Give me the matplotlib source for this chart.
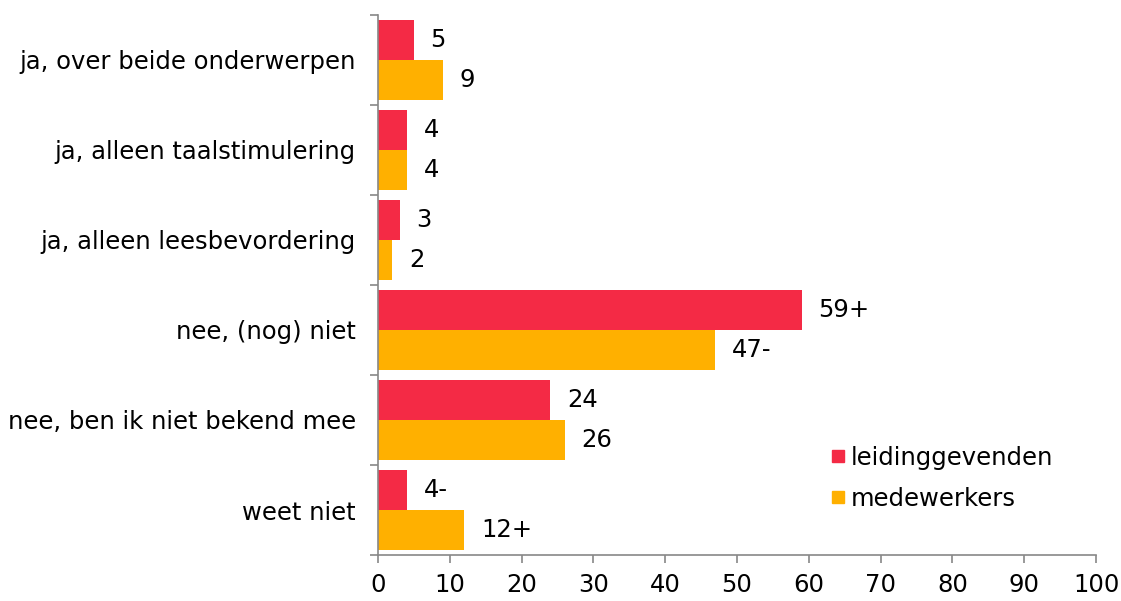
import numpy as np
import matplotlib.pyplot as plt
from matplotlib.lines import Line2D

categories = ["ja, over beide onderwerpen", "ja, alleen taalstimulering",
              "ja, alleen leesbevordering", "nee, (nog) niet",
              "nee, ben ik niet bekend mee", "weet niet"]
leiding = [5, 4, 3, 59, 24, 4]
leiding_labels = ["5", "4", "3", "59+", "24", "4-"]
medewerkers = [9, 4, 2, 47, 26, 12]
medewerkers_labels = ["9", "4", "2", "47-", "26", "12+"]

red = "#F42A45"
orange = "#FFB000"
axis_grey = "#888888"

plt.rcParams['font.family'] = ['DejaVu Sans']
fs = 17.5

fig = plt.figure(figsize=(11.21, 6.01), dpi=100)
ax = fig.add_axes([378/1121, 1 - 555/601, (1096 - 378)/1121, (555 - 15)/601])

n = len(categories)
y = np.arange(n)
h = 40/90
ax.barh(y - h/2, leiding, height=h, color=red, label="leidinggevenden")
ax.barh(y + h/2, medewerkers, height=h, color=orange, label="medewerkers")

for yi, v, t in zip(y, leiding, leiding_labels):
    ax.annotate(t, (v, yi - h/2), xytext=(12, 0), textcoords="offset points",
                va="center", ha="left", fontsize=fs)
for yi, v, t in zip(y, medewerkers, medewerkers_labels):
    ax.annotate(t, (v, yi + h/2), xytext=(12, 0), textcoords="offset points",
                va="center", ha="left", fontsize=fs)

ax.set_ylim(n - 0.5, -0.5)
ax.set_xlim(0, 100)
ax.set_xticks(np.arange(0, 101, 10))
ax.set_yticks(np.arange(n + 1) - 0.5)
ax.set_yticklabels([])
ax.set_yticks(y, minor=True)
ax.set_yticklabels(categories, minor=True, fontsize=fs)
ax.tick_params(axis="y", which="minor", length=0, pad=16)
ax.tick_params(axis="y", which="major", length=6, color=axis_grey, width=1.2)
ax.tick_params(axis="x", length=6, color=axis_grey, width=1.2, labelsize=fs, pad=7)

for s in ["top", "right"]:
    ax.spines[s].set_visible(False)
for s in ["left", "bottom"]:
    ax.spines[s].set_color(axis_grey)
    ax.spines[s].set_linewidth(1.2)

handles = [Line2D([], [], marker="s", linestyle="none", color=red, markersize=9),
           Line2D([], [], marker="s", linestyle="none", color=orange, markersize=9)]
fig.legend(handles, ["leidinggevenden", "medewerkers"], loc="upper left",
           bbox_to_anchor=(809/1121, 1 - 424/601), frameon=False, fontsize=fs,
           handlelength=0.6, handletextpad=0.2, labelspacing=0.7)

fig.savefig("out.png", dpi=100)
